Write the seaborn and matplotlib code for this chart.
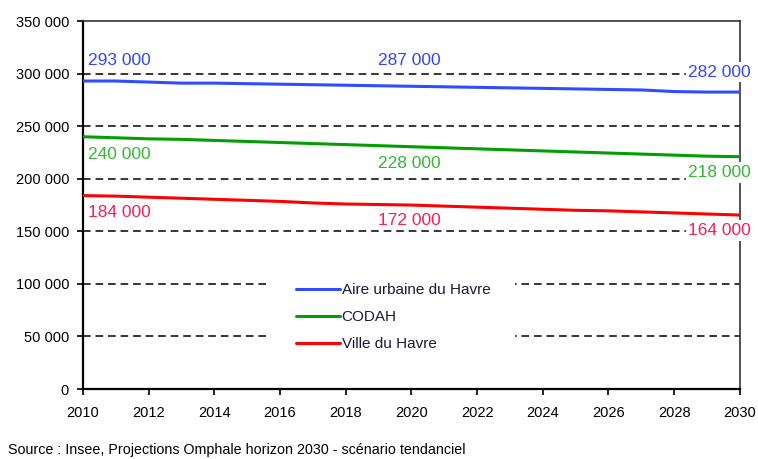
import numpy as np
import pandas as pd
import matplotlib
matplotlib.use("Agg")
import matplotlib.pyplot as plt
import seaborn as sns
from matplotlib.ticker import FuncFormatter

years = list(range(2010, 2031))
aire_urbaine = [293000, 293000, 292000, 291000, 291000, 290500, 290000, 289500, 289000, 288500,
                288000, 287500, 287000, 286500, 286000, 285500, 285000, 284500, 283000, 282500, 282500]
codah = [240000, 239000, 238000, 237500, 236500, 235500, 234500, 233500, 232500, 231500,
         230500, 229500, 228500, 227500, 226500, 225500, 224500, 223500, 222500, 221500, 221000]
ville = [184000, 183500, 182500, 181500, 180500, 179500, 178500, 177000, 176000, 175500,
         175000, 174000, 173000, 172000, 171000, 170000, 169500, 168500, 167500, 166500, 165500]

series_names = ["Aire urbaine du Havre", "CODAH", "Ville du Havre"]
line_colors = ["#2f4dff", "#00a000", "#ff0000"]
label_colors = ["#3344ff", "#33b833", "#ff1a55"]

# labels shown on the chart: (year, text) per series
label_years = [2010, 2020, 2030]
label_texts = [["293 000", "287 000", "282 000"],
               ["240 000", "228 000", "218 000"],
               ["184 000", "172 000", "164 000"]]
# vertical placement of each label, relative to the line (data units)
label_dy = [[20000, 25000, 19000],
            [-16500, -15500, -15000],
            [-16500, -15000, -14500]]

df = pd.DataFrame({
    "year": years * 3,
    "pop": aire_urbaine + codah + ville,
    "serie": [series_names[0]] * len(years) + [series_names[1]] * len(years) + [series_names[2]] * len(years),
})

sns.set_style("white")
plt.rcParams["font.family"] = ["Liberation Sans", "DejaVu Sans"]

fig = plt.figure(figsize=(7.58, 4.59), dpi=100)
ax = fig.add_axes([0.1095, 0.1525, 0.8665, 0.8015])

# dashed horizontal gridlines
for v in range(50000, 350000, 50000):
    ax.axhline(v, color="black", lw=1.1, ls=(0, (5, 3.2)), zorder=1)

sns.lineplot(data=df, x="year", y="pop", hue="serie", palette=line_colors,
             linewidth=2.2, ax=ax, zorder=3)

ax.set_xlim(2010, 2030)
ax.set_ylim(0, 350000)
ax.set_xticks(range(2010, 2031, 2))
ax.set_yticks(range(0, 350001, 50000))
ax.yaxis.set_major_formatter(FuncFormatter(lambda v, p: f"{int(v):,}".replace(",", " ")))
ax.set_xlabel("")
ax.set_ylabel("")
ax.tick_params(axis="both", labelsize=10.5, colors="black", length=4, width=1.2, direction="out")
ax.tick_params(axis="x", pad=8, bottom=True)
ax.tick_params(axis="y", pad=6, left=True)

for s in ["left", "bottom"]:
    ax.spines[s].set_color("black")
    ax.spines[s].set_linewidth(1.6)
for s in ["top", "right"]:
    ax.spines[s].set_color("#333333")
    ax.spines[s].set_linewidth(1.2)

# value labels
all_vals = [aire_urbaine, codah, ville]
for i, col in enumerate(label_colors):
    for j, yr in enumerate(label_years):
        yv = all_vals[i][years.index(yr)] + label_dy[i][j]
        box = dict(facecolor="white", edgecolor="none", pad=2)
        if j == 0:
            x, ha = yr + 0.15, "left"
        elif j == 1:
            x, ha, box = yr - 0.05, "center", None
        else:
            x, ha = yr - 0.61, "center"
        ax.text(x, yv, label_texts[i][j], color=col, fontsize=12.5,
                ha=ha, va="center", zorder=6, clip_on=False, bbox=box)

leg = ax.legend(loc="center", bbox_to_anchor=(0.472, 0.196), frameon=True,
                fontsize=11, handlelength=2.9, handletextpad=0.1, labelspacing=0.85,
                borderpad=1.6, borderaxespad=0)
leg.get_frame().set_facecolor("white")
leg.get_frame().set_edgecolor("none")
leg.get_frame().set_alpha(1)
leg.set_zorder(5)
for t in leg.get_texts():
    t.set_color("#1a1a33")

fig.text(0.011, 0.004, "Source : Insee, Projections Omphale horizon 2030 - scénario tendanciel",
         fontsize=10.3, color="black", ha="left", va="bottom")

fig.savefig("out.png", dpi=100)
